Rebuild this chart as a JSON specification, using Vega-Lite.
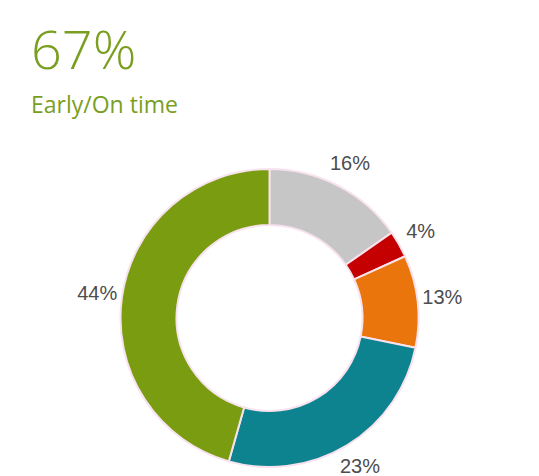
{
  "$schema": "https://vega.github.io/schema/vega-lite/v6.json",
  "width": 539,
  "height": 316,
  "autosize": {"type": "none"},
  "padding": {"left": 0, "top": 160, "right": 0, "bottom": 0},
  "background": "white",
  "title": {
    "text": "67%",
    "subtitle": "Early/On time",
    "anchor": "start",
    "frame": "group",
    "dx": 31,
    "font": "Open Sans",
    "fontSize": 54,
    "fontWeight": 300,
    "color": "#7a9e1f",
    "subtitleFont": "Open Sans",
    "subtitleFontSize": 23,
    "subtitleColor": "#7a9e1f",
    "subtitlePadding": 15,
    "offset": 36
  },
  "data": {
    "values": [
      {"status": "Open", "share": 15.3, "label": "16%", "order": 1},
      {"status": "Very late", "share": 2.9, "label": "4%", "order": 2},
      {"status": "Late", "share": 10.0, "label": "13%", "order": 3},
      {"status": "Early", "share": 26.2, "label": "23%", "order": 4},
      {"status": "On time", "share": 45.6, "label": "44%", "order": 5}
    ]
  },
  "encoding": {
    "theta": {"field": "share", "type": "quantitative", "stack": true},
    "order": {"field": "order", "type": "quantitative"},
    "color": {
      "field": "status",
      "type": "nominal",
      "scale": {
        "domain": ["Open", "Very late", "Late", "Early", "On time"],
        "range": ["#c6c6c6", "#c40000", "#ea750d", "#0d8390", "#7a9c10"]
      },
      "legend": null
    }
  },
  "layer": [
    {"mark": {"type": "arc", "outerRadius": 149, "innerRadius": 93, "stroke": "#f8e2ee", "strokeWidth": 2}},
    {
      "mark": {"type": "text", "radius": 174, "fontSize": 20, "font": "Liberation Sans"},
      "encoding": {"text": {"field": "label", "type": "nominal"}, "color": {"value": "#4d4d4d"}}
    }
  ],
  "config": {"view": {"stroke": null}}
}
